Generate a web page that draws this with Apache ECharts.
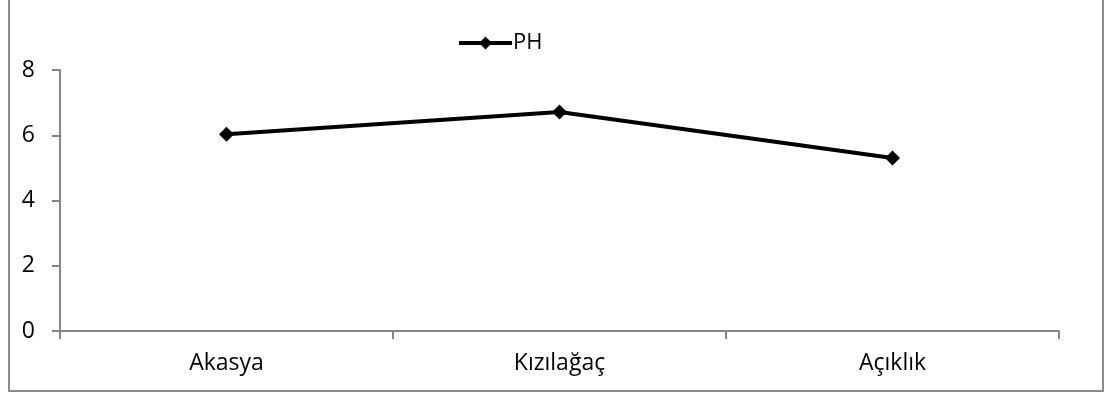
<!DOCTYPE html>
<html>
<head>
<meta charset="utf-8">
<script src="https://cdn.jsdelivr.net/npm/echarts@6/dist/echarts.min.js"></script>
<style>
  html, body { margin: 0; padding: 0; background: #fff; }
  #wrap { position: relative; width: 1109px; height: 397px; overflow: hidden; }
  #frame { position: absolute; left: 8px; top: -10px; width: 1096px; height: 402px; border: 2px solid #8c8c8c; box-sizing: border-box; }
  #chart { position: absolute; left: 0; top: 0; width: 1109px; height: 397px; }
</style>
</head>
<body>
<div id="wrap">
  <div id="frame"></div>
  <div id="chart"></div>
</div>
<script>
var categories = ['Akasya', 'Kızılağaç', 'Açıklık'];
var phValues = [6.03, 6.71, 5.3];
var yTicks = [0, 2, 4, 6, 8];

var myChart = echarts.init(document.getElementById('chart'));
var font = "'Open Sans', sans-serif";

var option = {
  animation: false,
  textStyle: { fontFamily: font, fontSize: 23 },
  legend: {
    data: ['PH'],
    left: 452,
    top: 27,
    itemWidth: 53,
    itemHeight: 16,
    itemGap: 4,
    lineStyle: { width: 4, color: '#000' },
    textStyle: { fontFamily: font, fontSize: 22, color: '#000', padding: [0, 0, 0, -4] }
  },
  grid: { left: 60, right: 50, top: 70, bottom: 66 },
  xAxis: {
    type: 'category',
    data: categories,
    boundaryGap: true,
    axisLine: { lineStyle: { color: '#868686', width: 2 } },
    axisTick: { show: true, length: 8, lineStyle: { color: '#868686', width: 2 } },
    axisLabel: { fontFamily: font, fontSize: 23, color: '#000', margin: 21 }
  },
  yAxis: {
    type: 'value',
    min: yTicks[0],
    max: yTicks[yTicks.length - 1],
    interval: 2,
    axisLine: { show: true, lineStyle: { color: '#868686', width: 2 } },
    axisTick: { show: true, length: 8, lineStyle: { color: '#868686', width: 2 } },
    splitLine: { show: false },
    axisLabel: { fontFamily: font, fontSize: 23, color: '#000', margin: 25 }
  },
  series: [{
    name: 'PH',
    type: 'line',
    data: phValues,
    symbol: 'diamond',
    symbolSize: 15,
    lineStyle: { color: '#000', width: 4 },
    itemStyle: { color: '#000' }
  }]
};

myChart.setOption(option);
</script>
</body>
</html>
